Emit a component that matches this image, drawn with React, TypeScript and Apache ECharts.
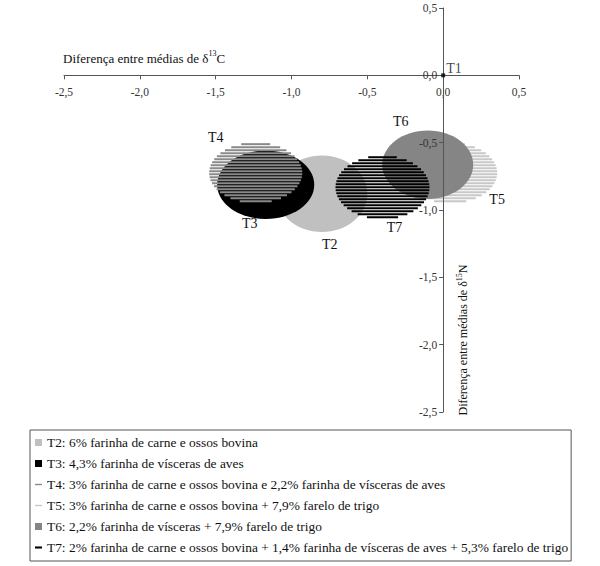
import React, { useEffect, useRef } from 'react';
import * as echarts from 'echarts';

// ellipses: [centre x, centre y, radius x, radius y] in axis units
const treatments = ['T2', 'T3', 'T4', 'T5', 'T6', 'T7'];
const legendNames = [
  'T2: 6% farinha de carne e ossos bovina',
  'T3: 4,3% farinha de vísceras de aves',
  'T4: 3% farinha de carne e ossos bovina e 2,2% farinha de vísceras de aves',
  'T5: 3% farinha de carne e ossos bovina + 7,9% farelo de trigo',
  'T6: 2,2% farinha de vísceras + 7,9% farelo de trigo',
  'T7: 2% farinha de carne e ossos bovina + 1,4% farinha de vísceras de aves + 5,3% farelo de trigo',
];
const ellipseT2 = [-0.8, -0.88, 0.3, 0.284];
const ellipseT3 = [-1.17, -0.813, 0.32, 0.254];
const ellipseT4 = [-1.236, -0.724, 0.307, 0.224];
const ellipseT5 = [0.046, -0.724, 0.31, 0.224];
const ellipseT6 = [-0.102, -0.664, 0.3, 0.254];
const ellipseT7 = [-0.4, -0.832, 0.31, 0.235];
const pointT1 = [0, 0];
const axisMin = -2.5;
const axisMax = 0.5;
const axisStep = 0.5;

const serif = '"Liberation Serif", "Times New Roman", serif';

const W = 600;
const H = 566;
const gridLeft = 64;
const gridRight = 81;
const gridTop = 8;
const gridBottom = 154;

// label offsets from the ellipse centre, in pixels
const labelOffset: Record<string, [number, number]> = {
  T2: [8, 51],
  T3: [-16, 39],
  T4: [-40, -35],
  T5: [47, 27],
  T6: [-27, -43],
  T7: [12, 40],
};

const fmt = (v: number) => v.toFixed(1).replace('.', ',');

function ellipseRender(tag: string, fill: string | null, stripe: string | null) {
  return (_params: any, api: any) => {
    const c = api.coord([api.value(0), api.value(1)]);
    const s = api.size([api.value(2), api.value(3)]);
    const rx = s[0];
    const ry = s[1];
    const children: any[] = [];
    if (fill) {
      children.push({ type: 'ellipse', shape: { cx: c[0], cy: c[1], rx, ry }, style: { fill } });
    }
    if (stripe) {
      for (let dy = -ry + 1.5; dy < ry; dy += 3) {
        const hw = rx * Math.sqrt(1 - (dy * dy) / (ry * ry));
        children.push({
          type: 'line',
          shape: { x1: c[0] - hw, y1: c[1] + dy, x2: c[0] + hw, y2: c[1] + dy },
          style: { stroke: stripe, lineWidth: 2 },
        });
      }
    }
    const off = labelOffset[tag];
    children.push({
      type: 'text',
      x: c[0] + off[0],
      y: c[1] + off[1],
      style: { text: tag, fill: '#111', font: `14px ${serif}`, align: 'center', verticalAlign: 'middle' },
    });
    return { type: 'group', children };
  };
}

const App: React.FC = () => {
  const chartRef = useRef<HTMLDivElement>(null);

  useEffect(() => {
    document.body.style.margin = '0';
    if (!chartRef.current) return;
    const chart = echarts.init(chartRef.current, null, { renderer: 'svg' });

    // axes cross at the origin: shift them from the grid edges
    const gw = W - gridLeft - gridRight;
    const gh = H - gridTop - gridBottom;
    const zeroX = gridLeft + ((0 - axisMin) / (axisMax - axisMin)) * gw;
    const zeroY = gridTop + ((axisMax - 0) / (axisMax - axisMin)) * gh;

    const axisCommon = {
      type: 'value' as const,
      min: axisMin,
      max: axisMax,
      interval: axisStep,
      splitLine: { show: false },
      axisLine: { onZero: false, lineStyle: { color: '#555', width: 1 } },
      axisTick: { length: 4, lineStyle: { color: '#555' } },
    };
    const labelCommon = { color: '#333', fontFamily: serif, fontSize: 11.5, formatter: fmt };

    const mk = (i: number, data: number[], fill: string | null, stripe: string | null, color: string) => ({
      name: legendNames[i],
      type: 'custom',
      renderItem: ellipseRender(treatments[i], fill, stripe),
      itemStyle: { color },
      data: [data],
      silent: true,
    });

    const lineIcon = 'path://M0,0H10V2H0Z';

    const option = {
      animation: false,
      grid: { left: gridLeft, right: gridRight, top: gridTop, bottom: gridBottom, outerBoundsMode: 'none' },
      xAxis: {
        ...axisCommon,
        offset: zeroY - (gridTop + gh),
        axisLabel: { ...labelCommon, margin: 11 },
      },
      yAxis: {
        ...axisCommon,
        offset: gridLeft - zeroX,
        z: 3,
        axisLabel: { ...labelCommon, margin: 6 },
      },
      legend: {
        orient: 'vertical',
        left: 30,
        top: 430,
        selectedMode: false,
        itemWidth: 7,
        itemHeight: 7,
        itemGap: 6,
        itemTextGap: 1,
        padding: [5, 3, 6, 5],
        borderColor: '#555',
        borderWidth: 1,
        textStyle: { color: '#111', fontFamily: serif, fontSize: 13.4, lineHeight: 15 },
        data: [
          { name: legendNames[0], icon: 'rect' },
          { name: legendNames[1], icon: 'rect' },
          { name: legendNames[2], icon: lineIcon },
          { name: legendNames[3], icon: lineIcon },
          { name: legendNames[4], icon: 'rect' },
          { name: legendNames[5], icon: 'path://M0,0H10V3H0Z' },
        ],
      },
      graphic: [
        {
          type: 'text',
          x: 63,
          y: 57,
          style: {
            text: '{a|Diferença entre médias de δ}{s|13}{a|C}',
            fill: '#111',
            verticalAlign: 'middle',
            rich: {
              a: { fontFamily: serif, fontSize: 13, lineHeight: 15, verticalAlign: 'bottom' },
              s: { fontFamily: serif, fontSize: 8, lineHeight: 15, verticalAlign: 'top' },
            },
          },
        },
        {
          type: 'text',
          x: 462,
          y: 340,
          rotation: Math.PI / 2,
          style: {
            text: '{a|Diferença entre médias de δ}{s|15}{a|N}',
            fill: '#111',
            align: 'center',
            verticalAlign: 'middle',
            rich: {
              a: { fontFamily: serif, fontSize: 12, lineHeight: 14, verticalAlign: 'bottom' },
              s: { fontFamily: serif, fontSize: 8, lineHeight: 14, verticalAlign: 'top' },
            },
          },
        },
      ],
      series: [
        mk(3, ellipseT5, null, '#c8c8c8', '#c8c8c8'),
        mk(4, ellipseT6, '#858585', null, '#858585'),
        mk(0, ellipseT2, '#c0c0c0', null, '#c0c0c0'),
        mk(1, ellipseT3, '#000', null, '#000'),
        mk(2, ellipseT4, null, '#8a8a8a', '#8a8a8a'),
        mk(5, ellipseT7, null, '#000', '#000'),
        {
          name: 'T1',
          type: 'scatter',
          symbol: 'rect',
          symbolSize: 4,
          itemStyle: { color: '#000' },
          data: [pointT1],
          z: 4,
          label: {
            show: true,
            formatter: 'T1',
            position: 'right',
            distance: 1,
            offset: [0, -7],
            color: '#111',
            fontFamily: serif,
            fontSize: 14,
          },
        },
      ],
    };

    chart.setOption(option as any);
    return () => chart.dispose();
  }, []);

  return <div ref={chartRef} style={{ width: W, height: H }} />;
};

export default App;
